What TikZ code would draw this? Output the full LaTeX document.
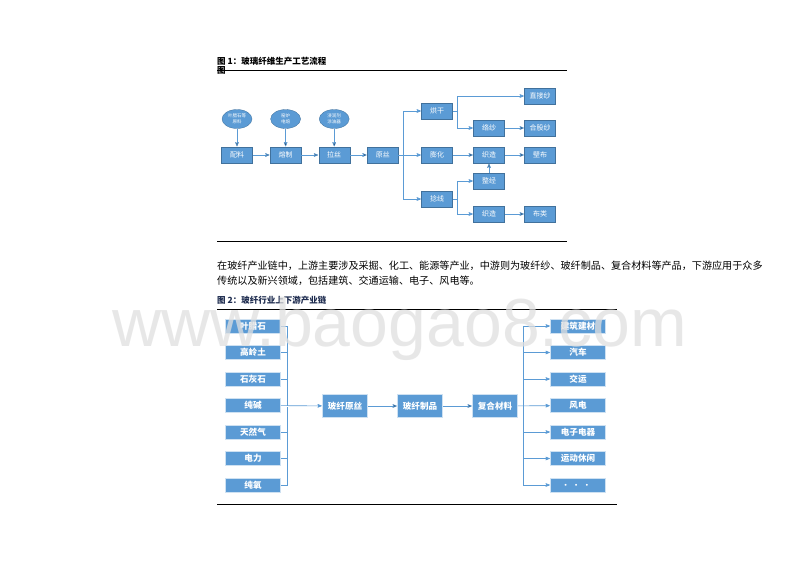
\documentclass[tikz,border=0pt]{standalone}
\usepackage{fontspec}
\setmainfont{Noto Sans CJK SC}
\newfontfamily\wmfont{Liberation Sans}
\usepackage{tikz}
\usetikzlibrary{arrows,shapes.geometric,shadows}
\definecolor{cblue}{RGB}{91,155,213}
\definecolor{cedge}{RGB}{65,113,156}
\definecolor{cnavy}{RGB}{31,45,80}

\begin{document}
\begin{tikzpicture}[x=1pt,y=-1pt,>=stealth',shorten >=0.5pt,node distance=48.6pt,
  step node/.style={rectangle,fill=cblue,draw=cedge,line width=0.3pt,minimum width=31pt,
    minimum height=16pt,inner sep=0pt,text=white,font=\fontsize{7}{8}\selectfont},
  oval node/.style={ellipse,fill=cblue,draw=cedge,line width=0.3pt,minimum width=30pt,
    minimum height=19pt,inner sep=0pt,align=center,text=white,font=\fontsize{4.5}{5.5}\selectfont},
  chain node/.style={rectangle,fill=cblue,draw=white!70!cblue,line width=0.5pt,minimum width=55pt,
    minimum height=14pt,inner sep=0pt,text=white,font=\bfseries\fontsize{8.6}{9}\selectfont,
    drop shadow={shadow xshift=0.7pt,shadow yshift=-0.7pt,opacity=0.3}},
  big node/.style={chain node,minimum width=45pt,minimum height=23pt},
  link/.style={draw=cblue,line width=0.6pt}]
  \useasboundingbox (0,0) rectangle (800,565);
  \fill[white] (0,0) rectangle (800,565);

  % figure 1
  \node[anchor=base west,inner sep=0pt,font=\bfseries\fontsize{8.5}{9}\selectfont] (t1) at (217,64) {图 1：玻璃纤维生产工艺流程};
  \node[anchor=base west,inner sep=0pt,font=\bfseries\fontsize{8.5}{9}\selectfont] (t1b) at (217,73.5) {图};
  \draw[line width=0.8pt] (217,70) -- (567,70);

  \node[step node] (1) at (237,155) {配料};
  \node[step node] (2) [right of=1] {熔制};
  \node[step node] (3) [right of=2] {拉丝};
  \node[step node] (4) [right of=3] {原丝};
  \node[oval node,node distance=36pt] (e1) [above of=1] {叶腊石等\\原料};
  \node[oval node,node distance=36pt] (e2) [above of=2] {窑炉\\电熔};
  \node[oval node,node distance=36pt] (e3) [above of=3] {浸润剂\\涂油器};
  \node[step node] (5) at (437,111) {烘干};
  \node[step node] (6) at (437,155) {膨化};
  \node[step node] (7) at (437,199) {捻线};
  \node[step node] (8) at (489,128) {络纱};
  \node[step node] (9) at (489,155) {织造};
  \node[step node] (10) at (489,181) {整经};
  \node[step node] (11) at (489,214) {织造};
  \node[step node] (12) at (540,96) {直接纱};
  \node[step node] (13) at (540,128) {合股纱};
  \node[step node] (14) at (540,155) {壁布};
  \node[step node] (15) at (540,214) {布类};
  \coordinate (b1) at (403,155);
  \coordinate (b2) at (457,111);
  \coordinate (b3) at (457,199);

  \path[link,->]
    (e1) edge (1)
    (e2) edge (2)
    (e3) edge (3)
    (1) edge (2)
    (2) edge (3)
    (3) edge (4)
    (8) edge (13)
    (6) edge (9)
    (9) edge (14)
    (10) edge (9)
    (11) edge (15);
  \draw[link,->] (4) -- (6);
  \draw[link,->] (b1) |- (5);
  \draw[link,->] (b1) |- (7);
  \draw[link] (5) -- (b2);
  \draw[link,->] (b2) |- (12);
  \draw[link,->] (b2) |- (8);
  \draw[link] (7) -- (b3);
  \draw[link,->] (b3) |- (10);
  \draw[link,->] (b3) |- (11);
  \draw[line width=0.8pt] (217,241) -- (567,241);

  % text
  \node[anchor=base west,inner sep=0pt,font=\fontsize{10.1}{12}\selectfont] (p1) at (217,269.5) {在玻纤产业链中，上游主要涉及采掘、化工、能源等产业，中游则为玻纤纱、玻纤制品、复合材料等产品，下游应用于众多};
  \node[anchor=base west,inner sep=0pt,font=\fontsize{10.1}{12}\selectfont] (p2) at (217,284) {传统以及新兴领域，包括建筑、交通运输、电子、风电等。};

  % figure 2
  \node[anchor=base west,inner sep=0pt,text=cnavy,font=\bfseries\fontsize{8.5}{9}\selectfont] (t2) at (217,303) {图 2：玻纤行业上下游产业链};
  \draw[line width=0.8pt] (217,309) -- (617,309);

  \node[chain node] (16) at (253,326) {叶腊石};
  \node[chain node,node distance=26.5pt] (17) [below of=16] {高岭土};
  \node[chain node,node distance=26.5pt] (18) [below of=17] {石灰石};
  \node[chain node,node distance=26.5pt] (19) [below of=18] {纯碱};
  \node[chain node,node distance=26.5pt] (20) [below of=19] {天然气};
  \node[chain node,node distance=26.5pt] (21) [below of=20] {电力};
  \node[chain node,node distance=26.5pt] (22) [below of=21] {纯氧};
  \node[big node] (23) at (345,406) {玻纤原丝};
  \node[big node,node distance=75pt] (24) [right of=23] {玻纤制品};
  \node[big node,node distance=75pt] (25) [right of=24] {复合材料};
  \node[chain node] (26) at (578,326) {建筑建材};
  \node[chain node,node distance=26.5pt] (27) [below of=26] {汽车};
  \node[chain node,node distance=26.5pt] (28) [below of=27] {交运};
  \node[chain node,node distance=26.5pt] (29) [below of=28] {风电};
  \node[chain node,node distance=26.5pt] (30) [below of=29] {电子电器};
  \node[chain node,node distance=26.5pt] (31) [below of=30] {运动休闲};
  \node[chain node,node distance=26.5pt] (32) [below of=31] {．\ ．\ ．};
  \coordinate (c1) at (287,406);
  \coordinate (c2) at (523,406);

  \draw[link] (16) -| (c1);
  \draw[link] (17) -| (c1);
  \draw[link] (18) -| (c1);
  \draw[link] (20) -| (c1);
  \draw[link] (21) -| (c1);
  \draw[link] (22) -| (c1);
  \draw[link,->] (19) -- (23);
  \path[link,->]
    (23) edge (24)
    (24) edge (25);
  \draw[link,->] (25) -- (29);
  \draw[link,->] (c2) |- (26);
  \draw[link,->] (c2) |- (27);
  \draw[link,->] (c2) |- (28);
  \draw[link,->] (c2) |- (30);
  \draw[link,->] (c2) |- (31);
  \draw[link,->] (c2) |- (32);
  \draw[line width=0.8pt] (217,504) -- (617,504);

  % watermark
  \node[anchor=base,inner sep=0pt,text=black!12,text opacity=0.75,font=\wmfont\fontsize{68}{68}\selectfont] (wm) at (400,346) {www.baogao8.com};
\end{tikzpicture}
\end{document}
